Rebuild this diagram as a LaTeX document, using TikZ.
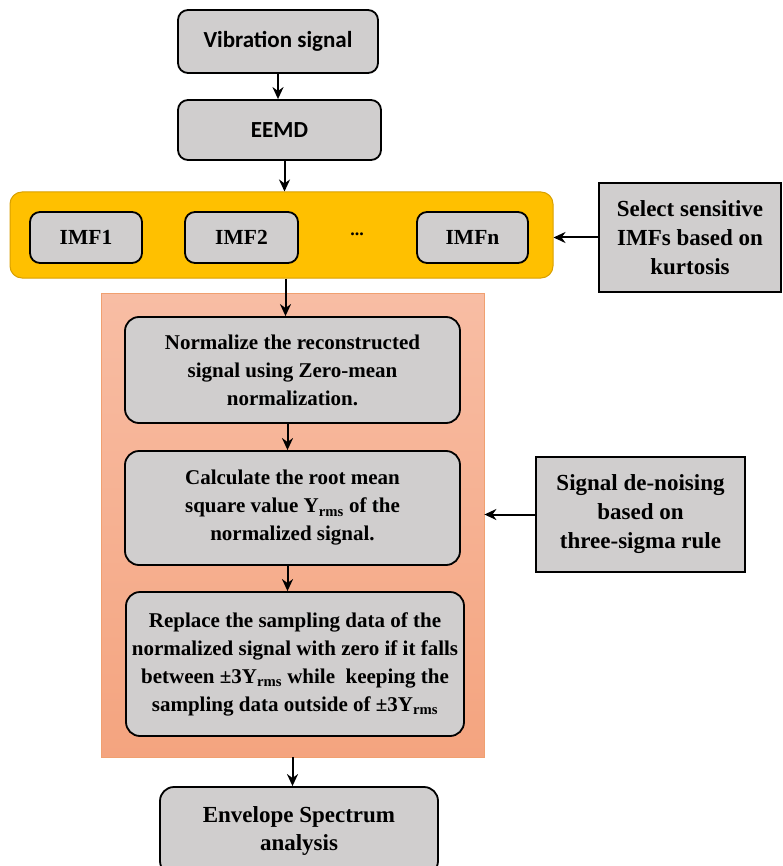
\documentclass[tikz,border=0pt]{standalone}
\usepackage{fontspec}
\setmainfont{Liberation Serif}
\newfontfamily\tnr{Liberation Serif}
\newfontfamily\calib{Carlito}
\usetikzlibrary{arrows.meta,calc,shapes.geometric}
\definecolor{boxgray}{HTML}{D0CECE}
\definecolor{bandyel}{HTML}{FFC000}
\definecolor{bandedge}{HTML}{D9A000}
\definecolor{salmontop}{HTML}{F8BDA4}
\definecolor{salmonbot}{HTML}{F4A47F}
\definecolor{salmonedge}{HTML}{F0A070}
\begin{document}
\begin{tikzpicture}[x=1pt,y=-1pt,
  rbox/.style={draw=black,line width=1.8pt,fill=boxgray,rounded corners=14pt,align=center,inner sep=2pt},
  sbox/.style={draw=black,line width=1.8pt,fill=boxgray,rounded corners=10pt,align=center,inner sep=2pt},
  qbox/.style={draw=black,line width=1.6pt,fill=boxgray,align=center,inner sep=2pt},
  arr/.style={line width=2pt,-{Stealth[length=12pt,width=11pt]}},
  serifbold/.style={font=\tnr\fontsize{21}{28}\selectfont\bfseries},
  bigserif/.style={font=\tnr\fontsize{23}{29}\selectfont\bfseries},
  imfserif/.style={font=\tnr\fontsize{21.5}{26}\selectfont\bfseries},
  calbold/.style={font=\calib\fontsize{23}{26}\selectfont\bfseries}
]
\useasboundingbox (0,0) rectangle (782,866);
% top boxes
\node[sbox,calbold,minimum width=200pt,minimum height=63pt] (vib) at (278,41.5) {Vibration signal};
\node[sbox,calbold,minimum width=203pt,minimum height=60pt] (eemd) at (279.5,130) {EEMD};
% IMF band
\node[draw=bandedge,line width=1pt,fill=bandyel,rounded corners=12pt,minimum width=543pt,minimum height=86pt] (band) at (281.5,235) {};
\node[sbox,imfserif,minimum width=112pt,minimum height=51pt] (imf1) at (86,237.5) {IMF1};
\node[sbox,imfserif,minimum width=113pt,minimum height=51pt] (imf2) at (241.5,237.5) {IMF2};
\node[font=\tnr\fontsize{18}{20}\selectfont\bfseries] (dots) at (357,234) {...};
\node[sbox,imfserif,minimum width=111pt,minimum height=51pt] (imfn) at (472.5,237.5) {IMFn};
\node[qbox,bigserif,minimum width=182pt,minimum height=109pt] (sel) at (690,237.5) {Select sensitive\\IMFs based on\\kurtosis};
% salmon region
\node[draw=salmonedge,line width=0.8pt,top color=salmontop,bottom color=salmonbot,minimum width=383pt,minimum height=464pt] (reg) at (292.5,525) {};
\node[rbox,serifbold,minimum width=335pt,minimum height=106pt] (A) at (292.5,370) {Normalize the reconstructed\\signal using Zero-mean\\normalization.};
\node[rbox,serifbold,minimum width=335pt,minimum height=114pt] (B) at (292.5,508) {Calculate the root mean\\square value Y\textsubscript{rms} of the\\normalized signal.};
\node[rbox,serifbold,minimum width=338pt,minimum height=144pt] (C) at (295,664) {Replace the sampling data of the\\normalized signal with zero if it falls\\between ±3Y\textsubscript{rms} while\enspace keeping the\\sampling data outside of ±3Y\textsubscript{rms}};
\node[qbox,bigserif,minimum width=209pt,minimum height=115pt] (den) at (640.5,514.5) {Signal de-noising\\based on\\three-sigma rule};
\node[rbox,font=\tnr\fontsize{23}{28}\selectfont\bfseries,minimum width=278pt,minimum height=88pt] (env) at (299,831) {Envelope Spectrum\\analysis};
% arrows
\draw[arr] (vib.south) -- (vib.south |- eemd.north);
\draw[arr] ([xshift=5pt]eemd.south) -- ([xshift=5pt]eemd.south |- band.north);
\draw[arr] ([xshift=4pt]band.south) -- ([xshift=4pt]band.south |- A.north);
\draw[arr] ([xshift=-5pt]A.south) -- ([xshift=-5pt]A.south |- B.north);
\draw[arr] ([xshift=-5pt]B.south) -- ([xshift=-5pt]B.south |- C.north);
\draw[arr] (reg.south) -- (reg.south |- env.north);
\draw[arr] (sel.west) -- (sel.west -| band.east);
\draw[arr] (den.west) -- (den.west -| reg.east);
\end{tikzpicture}
\end{document}
